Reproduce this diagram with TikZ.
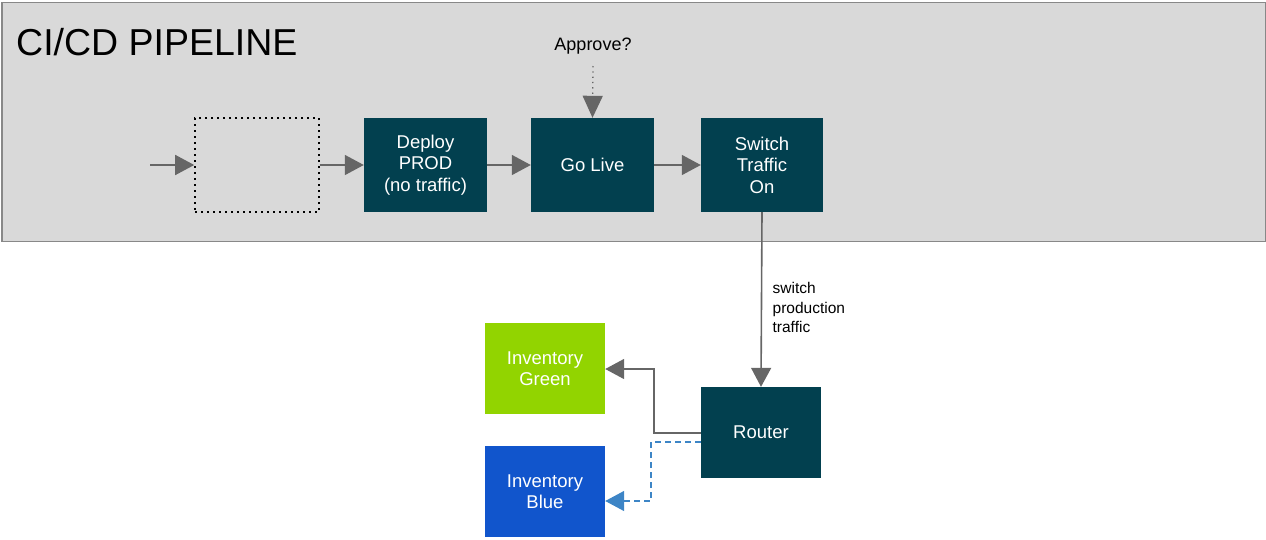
\documentclass[tikz,border=0pt]{standalone}
\usepackage{fontspec}
\setmainfont{Liberation Sans}
\usetikzlibrary{arrows.meta}
\definecolor{panel}{HTML}{D9D9D9}
\definecolor{panelborder}{HTML}{888888}
\definecolor{teal}{HTML}{02404F}
\definecolor{invgreen}{HTML}{92D400}
\definecolor{invblue}{HTML}{1155CC}
\definecolor{arrowgray}{HTML}{666666}
\definecolor{dashblue}{HTML}{3D85C6}
\tikzset{
  box/.style={draw=none, minimum width=#1, align=center, text=white, inner sep=0pt,
    font=\fontsize{18.5}{21.5}\selectfont},
  box/.default=123pt,
  conn/.style={draw=arrowgray, line width=1.6pt, -{Triangle[length=19pt,width=20pt]}},
}
\begin{document}
\begin{tikzpicture}[x=1pt,y=-1pt]
\useasboundingbox (0,0) rectangle (1266,539);
% panel
\node[draw=panelborder, fill=panel, line width=1.2pt, minimum width=1263pt, minimum height=239pt, anchor=north west, inner sep=0pt] (panel) at (1.5,1.5) {};
\node[anchor=base west, font=\fontsize{37.5}{44}\selectfont, inner sep=0pt] (title) at (16,55) {CI/CD PIPELINE};
% nodes
\coordinate (in) at (150,165);
\node[draw=black, line width=1.6pt, dash pattern=on 1.6pt off 4.4pt, minimum width=124pt, minimum height=94pt, inner sep=0pt] (empty) at (257,165) {};
\node[box, fill=teal, minimum height=94pt] (deploy) at (425.5,165) {Deploy\\PROD\\(no traffic)};
\node[box, fill=teal, minimum height=94pt] (golive) at (592.5,165) {Go Live};
\node[box, fill=teal, minimum height=94pt, minimum width=122pt] (switch) at (762,165) {Switch\\Traffic\\On};
\node[font=\fontsize{18}{21}\selectfont, inner sep=0pt] (approve) at (593,46) {Approve?};
\coordinate (apstart) at (593,66);
\node[box, fill=teal, minimum width=120pt, minimum height=91pt] (router) at (761,432.5) {Router};
\node[box, fill=invgreen, minimum width=120pt, minimum height=91pt] (green) at (545,368.5) {Inventory\\Green};
\node[box, fill=invblue, minimum width=120pt, minimum height=91pt] (blue) at (545,491.5) {Inventory\\Blue};
% connectors
\draw[conn] (in) -- (empty.west);
\draw[conn] (empty.east) -- (deploy.west);
\draw[conn] (deploy.east) -- (golive.west);
\draw[conn] (golive.east) -- (switch.west);
\draw[draw=arrowgray, line width=1.3pt, dash pattern=on 1.3pt off 4pt, -{Triangle[length=22pt,width=20pt]}] (apstart) -- (golive.north);
\draw[conn] (switch.south) -- node[right, xshift=7pt, yshift=-8pt, align=left, font=\fontsize{15.5}{19.5}\selectfont, text=black] {switch\\production\\traffic} (router.north);
\draw[conn] (router.west |- 0,433) -- (654,433) -- (654,369) -- (green.east |- 0,369);
\draw[draw=dashblue, line width=1.4pt, dash pattern=on 6pt off 4pt, -{Triangle[length=19pt,width=20pt]}] (router.west |- 0,442) -- (651,442) -- (651,501) -- (blue.east |- 0,501);
\end{tikzpicture}
\end{document}
